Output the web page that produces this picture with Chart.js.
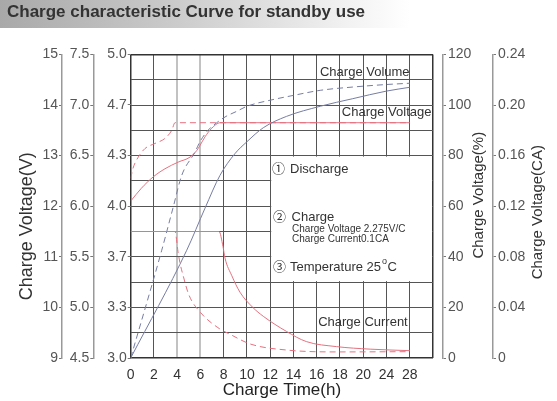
<!DOCTYPE html>
<html>
<head>
<meta charset="utf-8">
<script src="https://cdn.jsdelivr.net/npm/chart.js@4.4.1/dist/chart.umd.min.js"></script>
<style>
  html, body { margin: 0; padding: 0; background: #fff; }
  #wrap { position: relative; width: 557px; height: 401px; }
  #band { position: absolute; left: 0; top: 0; width: 410px; height: 28px;
          background: linear-gradient(to right, #a8a8a8 0%, #cdcdcd 45%, #f2f2f2 85%, #fff 100%); }
  #chart { position: absolute; left: 0; top: 0; }
</style>
</head>
<body>
<div id="wrap">
  <div id="band"></div>
  <canvas id="chart" width="557" height="401"></canvas>
</div>
<script>
// tick labels
const timeTicks = ['0', '2', '4', '6', '8', '10', '12', '14', '16', '18', '20', '24', '28'];
const packVoltTicks = ['9', '10', '11', '12', '13', '14', '15'];
const blockVoltTicks = ['4.5', '5.0', '5.5', '6.0', '6.5', '7.0', '7.5'];
const cellVoltTicks = ['3.0', '3.3', '3.7', '4.0', '4.3', '4.7', '5.0'];
const volumeTicks = ['0', '20', '40', '60', '80', '100', '120'];
const currentTicks = ['0', '0.04', '0.08', '0.12', '0.16', '0.20', '0.24'];

// charge voltage (V)
const voltSolidHours = [0, 0.9, 1.94, 2.95, 4.07, 5.1, 5.68, 5.96, 6.39, 6.97, 7.68, 28];
const voltSolid = [12.1, 12.35, 12.58, 12.74, 12.87, 12.97, 13.1, 13.2, 13.37, 13.54, 13.65, 13.65];
const voltDashHours = [0, 0.2, 0.65, 1.23, 2.09, 2.95, 3.53, 3.81, 28];
const voltDash = [12.55, 12.75, 12.97, 13.14, 13.24, 13.34, 13.5, 13.65, 13.65];

// charge volume (%)
const volSolidHours = [0, 4.82, 6.39, 7.68, 8.97, 10, 11.4, 13.4, 16.3, 19.1, 24, 28];
const volSolid = [0, 42.6, 59.2, 72.2, 80.8, 85.5, 91, 95.5, 99.5, 102.5, 105.5, 107];
const volDashHours = [0, 2.67, 3.66, 4.39, 5.53, 5.96, 6.65, 7.4, 8.2, 9.12, 10, 12, 14, 16.3, 19.1, 24, 28];
const volDash = [0, 42.6, 59.7, 72.2, 81.4, 85.5, 90, 93, 95.5, 97.5, 99.5, 101.9, 103.8, 105.8, 107.1, 108.1, 108.6];

// charge current (CA)
const curSolidHours = [0, 7.6, 7.94, 8.11, 8.7, 9.4, 10.5, 11.4, 13.4, 15.1, 17.7, 21.2, 28];
const curSolid = [0.1, 0.1, 0.088, 0.079, 0.065, 0.052, 0.04, 0.033, 0.021, 0.013, 0.009, 0.007, 0.0058];
const curDashHours = [0, 3.81, 4.07, 4.24, 4.5, 5.0, 6.0, 7.5, 8.7, 10.3, 13.4, 17.7, 28];
const curDash = [0.1, 0.1, 0.084, 0.075, 0.0655, 0.05, 0.036, 0.024, 0.018, 0.011, 0.0063, 0.0048, 0.005];

// time axis: 2h per division up to 20h, 4h per division after that
const hourToDiv = h => (h <= 20 ? h / 2 : 10 + (h - 20) / 4);
const pts = (hours, vals) => hours.map((h, i) => ({ x: hourToDiv(h), y: vals[i] }));

const RED = '#e6717f';
const BLUE = '#767da3';
const FONT = "'Liberation Sans', Arial, 'Noto Sans CJK SC', sans-serif";

function evenTicks(labels) {
  return scale => {
    const { min, max } = scale;
    scale.ticks = labels.map((_, i) => ({ value: min + (max - min) * i / (labels.length - 1) }));
  };
}

function valueAxis(position, weight, min, max, labels, width, showBorder) {
  return {
    position, weight, min, max,
    afterBuildTicks: evenTicks(labels),
    afterFit: s => { s.width = width; },
    ticks: { callback: (v, i) => labels[i], color: '#555', padding: position === 'left' ? 1 : 2,
             font: { family: FONT, size: 14 } },
    grid: { drawOnChartArea: false, drawTicks: true, tickLength: 3, color: '#777' },
    border: { display: showBorder, color: '#999', width: 1.5 }
  };
}

const line = (data, axis, color, dashed) => ({
  data, yAxisID: axis, borderColor: color, borderWidth: 1,
  borderDash: dashed ? [6, 4] : [], pointRadius: 0, fill: false,
  cubicInterpolationMode: 'monotone'
});

// white panel with the test conditions, and the curve names
const notes = {
  id: 'notes',
  beforeDatasetsDraw(chart) {
    const { ctx, scales: { x, y } } = chart;
    const l = x.getPixelForValue(6) + 1, r = x.getPixelForValue(13) - 1;
    const t = y.getPixelForValue(8) + 1, b = y.getPixelForValue(3) - 1;
    ctx.save();
    ctx.fillStyle = '#fff';
    ctx.fillRect(l, t, r - l, b - t);
    ctx.restore();
  },
  afterDatasetsDraw(chart) {
    const { ctx, scales: { x, y } } = chart;
    ctx.save();
    ctx.fillStyle = '#333';
    ctx.textBaseline = 'middle';
    const put = (text, gx, gy, size) => {
      ctx.font = size + 'px ' + FONT;
      const px = x.getPixelForValue(gx);
      ctx.fillText(text, px, y.getPixelForValue(gy));
      return px + ctx.measureText(text).width;
    };
    put('Charge Volume', 8.14, 11.29, 13);
    put('Charge Voltage', 9.08, 9.69, 13);
    put('①', 6.08, 7.46, 13);
    put('Discharge', 6.85, 7.46, 13);
    put('②', 6.12, 5.57, 13);
    put('Charge', 6.92, 5.57, 13);
    put('Charge Voltage 2.275V/C', 6.94, 5.09, 10);
    put('Charge Current0.1CA', 6.94, 4.70, 10);
    put('③', 6.12, 3.59, 13);
    const end = put('Temperature 25', 6.85, 3.59, 13);
    const yt = y.getPixelForValue(3.59);
    ctx.font = '9px ' + FONT;
    ctx.fillText('o', end + 1, yt - 6);
    ctx.font = '13px ' + FONT;
    ctx.fillText('C', end + 6.5, yt);
    put('Charge Current', 8.06, 1.42, 13);
    ctx.restore();
  }
};

// right-hand axis titles read bottom to top
const sideTitles = {
  id: 'sideTitles',
  afterDraw(chart) {
    const { ctx } = chart;
    const draw = (scale, dx, dy, text) => {
      ctx.save();
      ctx.translate(scale.left + dx, (scale.top + scale.bottom) / 2 + dy);
      ctx.rotate(-Math.PI / 2);
      ctx.font = '15px ' + FONT;
      ctx.fillStyle = '#333';
      ctx.textAlign = 'center';
      ctx.textBaseline = 'middle';
      ctx.fillText(text, 0, 0);
      ctx.restore();
    };
    draw(chart.scales.yPct, 36, -11, 'Charge Voltage(%)');
    draw(chart.scales.yCA, 44.5, 6, 'Charge Voltage(CA)');
  }
};

const gridColor = (i, last) => (i === 0 || i === last ? '#333' : '#555');

const yV = valueAxis('left', 3, 9, 15, packVoltTicks, 55, true);
yV.title = { display: true, text: 'Charge Voltage(V)        ', color: '#333',
             font: { family: FONT, size: 18, lineHeight: 1 }, padding: { top: 11, bottom: 0 } };

new Chart(document.getElementById('chart'), {
  type: 'line',
  data: {
    datasets: [
      line(pts(curSolidHours, curSolid), 'yCA', RED, false),
      line(pts(curDashHours, curDash), 'yCA', RED, true),
      line(pts(volSolidHours, volSolid), 'yPct', BLUE, false),
      line(pts(volDashHours, volDash), 'yPct', BLUE, true),
      line(pts(voltSolidHours, voltSolid), 'yV', RED, false),
      line(pts(voltDashHours, voltDash), 'yV', RED, true)
    ]
  },
  options: {
    responsive: false,
    animation: false,
    layout: { padding: { left: 7, right: 0, top: 0, bottom: 0 } },
    plugins: {
      legend: { display: false },
      tooltip: { enabled: false },
      title: {
        display: true, text: 'Charge characteristic Curve for standby use', align: 'start',
        color: '#333', font: { family: FONT, size: 17, weight: 'bold', lineHeight: 1.2 },
        padding: { top: 2, bottom: 32 }
      }
    },
    scales: {
      x: {
        type: 'linear', min: 0, max: 13,
        afterBuildTicks: s => { s.ticks = timeTicks.concat('').map((_, i) => ({ value: i })); },
        afterFit: s => { s.height = 43; },
        ticks: { callback: (v, i) => timeTicks[i] ?? '', autoSkip: false, maxRotation: 0, padding: 10,
                 color: '#333', font: { family: FONT, size: 14, lineHeight: 1 } },
        grid: {
          drawTicks: false,
          color: c => (c.index === 2 || c.index === 3 ? '#c2c2c2' : gridColor(c.index, 13)),
          lineWidth: c => (c.index === 2 || c.index === 3 ? 2 : (c.index === 0 || c.index === 13 ? 1.5 : 1))
        },
        border: { display: false },
        title: { display: true, text: 'Charge Time(h)', color: '#222',
                 font: { family: FONT, size: 17, lineHeight: 1 }, padding: { top: 0, bottom: 2.5 } }
      },
      // 12-division background grid shared by every value axis
      y: {
        position: 'left', weight: 0, min: 0, max: 12,
        afterBuildTicks: s => { s.ticks = Array.from({ length: 13 }, (_, i) => ({ value: i })); },
        afterFit: s => { s.width = 0; },
        ticks: { display: false },
        grid: { drawTicks: false, color: c => gridColor(c.index, 12),
                lineWidth: c => (c.index === 0 || c.index === 12 ? 1.5 : 1) },
        border: { display: false }
      },
      yV3: valueAxis('left', 1, 3.0, 5.0, cellVoltTicks, 37.4, false),
      yV2: valueAxis('left', 2, 4.5, 7.5, blockVoltTicks, 31.3, true),
      yV: yV,
      gap: {
        position: 'right', weight: 0, min: 0, max: 1,
        afterFit: s => { s.width = 10; },
        ticks: { display: false }, grid: { display: false }, border: { display: false }
      },
      yPct: valueAxis('right', 1, 0, 120, volumeTicks, 50, true),
      yCA: valueAxis('right', 2, 0, 0.24, currentTicks, 64, true)
    }
  },
  plugins: [notes, sideTitles]
});
</script>
</body>
</html>
